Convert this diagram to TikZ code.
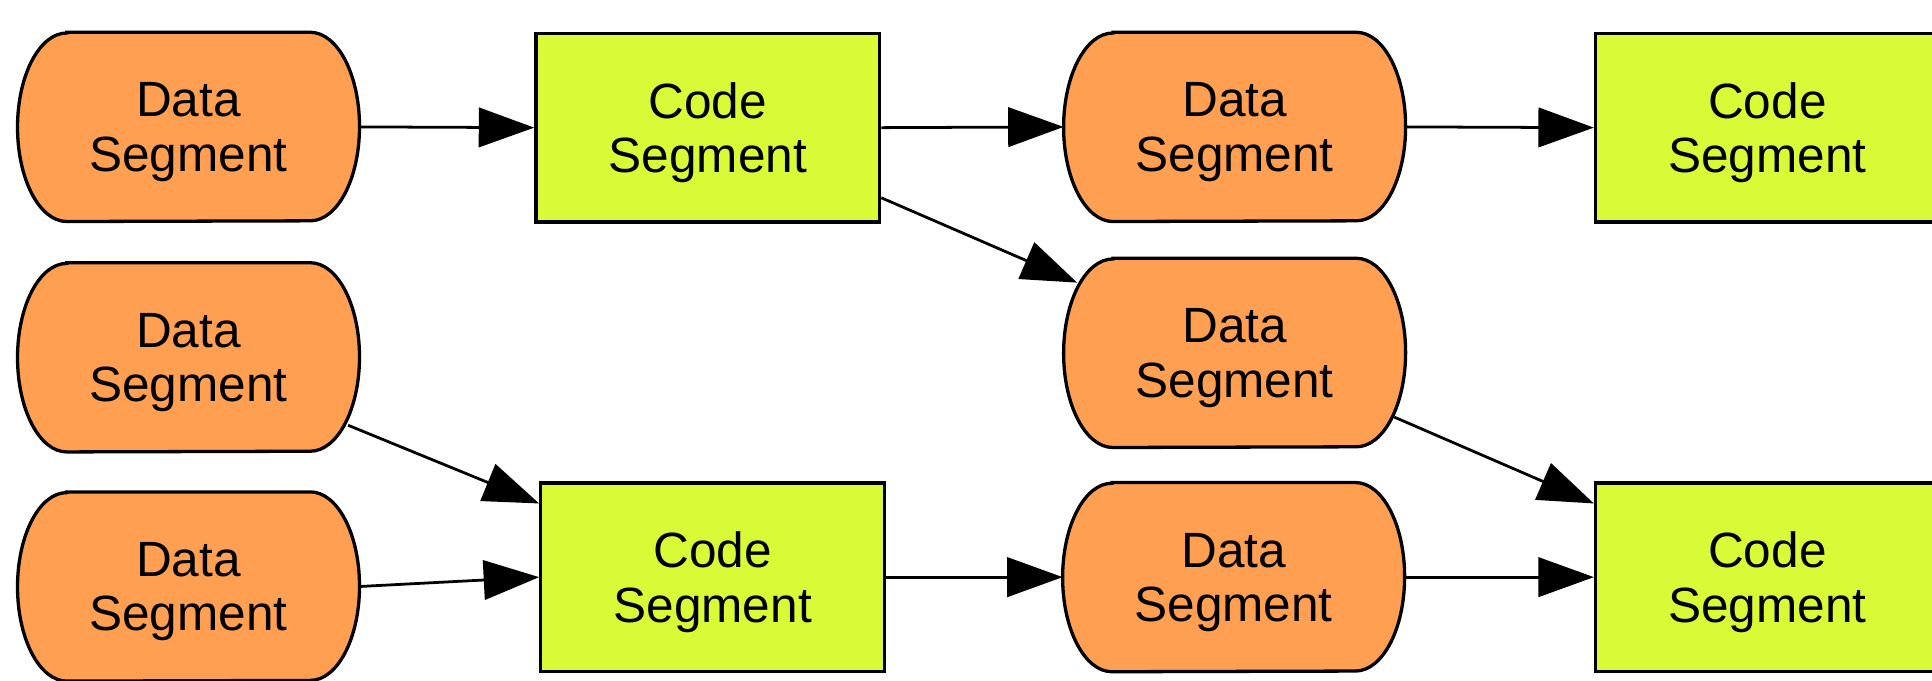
\documentclass[tikz,border=0pt]{standalone}
\usepackage{fontspec}
\setmainfont{Liberation Sans}
\usetikzlibrary{arrows.meta,backgrounds}
\definecolor{dataorange}{RGB}{255,159,82}
\definecolor{codelime}{RGB}{217,251,55}

\begin{document}
\begin{tikzpicture}[font=\fontsize{28.6}{31.3}\selectfont,
  seg/.style={minimum height=3.825cm, inner sep=0pt, align=center, text depth=0pt},
  data/.style={seg, minimum width=6.925cm},
  code/.style={seg, minimum width=6.975cm, draw, line width=1.9pt, fill=codelime},
  datashape/.style={draw, line width=1.9pt, fill=dataorange},
  link/.style={line width=1.6pt, -{Triangle[length=1.125cm,width=0.8cm]}}]

\useasboundingbox (0,0) rectangle (39.2,-13.8);

\begin{scope}
\clip (0,0) rectangle (39.2,-13.8);

\node[data] (dA) at (3.825,-2.575) {Data\\Segment};
\node[code] (cB) at (14.36,-2.59) {Code\\Segment};
\node[data] (dC) at (25.05,-2.575) {Data\\Segment};
\node[code] (cD) at (35.86,-2.59) {Code\\Segment};

\node[data] (dE) at (25.05,-7.16) {Data\\Segment};
\node[data] (dF) at (3.825,-7.25) {Data\\Segment};

\node[data] (dG) at (3.825,-11.9) {Data\\Segment};
\node[code] (cH) at (14.46,-11.71) {Code\\Segment};
\node[data] (dI) at (25.03,-11.71) {Data\\Segment};
\node[code] (cJ) at (35.86,-11.71) {Code\\Segment};

% barrel outline behind every data node
\begin{scope}[on background layer]
\foreach \n in {dA,dC,dE,dF,dG,dI}
  \draw[datashape] ([xshift=1cm]\n.north west) -- ([xshift=-1cm]\n.north east)
    arc[start angle=90, end angle=-90, x radius=1cm, y radius=1.9125cm]
    -- ([xshift=1cm]\n.south west)
    arc[start angle=270, end angle=90, x radius=1cm, y radius=1.9125cm] -- cycle;
\end{scope}

\draw[link] (dA.east) -- (cB.west);
\draw[link] (cB.east) -- (dC.west);
\draw[link, shorten >=-0.3cm] (cB.-22.7) -- (dE.156);
\draw[link] (dC.east) -- (cD.west);
\draw[link, shorten <=-0.25cm] (dF.-23) -- (cH.157);
\draw[link] (dG.east) -- (cH.west);
\draw[link] (cH.east) -- (dI.west);
\draw[link, shorten <=-0.25cm] (dE.-22.7) -- (cJ.157);
\draw[link] (dI.east) -- (cJ.west);

\end{scope}

\end{tikzpicture}
\end{document}
